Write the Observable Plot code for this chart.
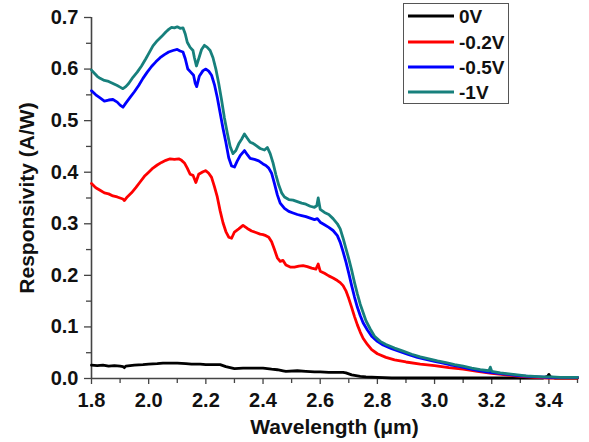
<!DOCTYPE html>
<html>
<head>
<meta charset="utf-8">
<script src="https://cdn.jsdelivr.net/npm/d3@7"></script>
<script src="https://cdn.jsdelivr.net/npm/@observablehq/plot@0.6"></script>
<style>
  body { margin: 0; background: white; }
  #wrap { position: relative; width: 589px; height: 442px; }
  #legend { position: absolute; left: 403px; top: 3px; }
</style>
</head>
<body>
<div id="wrap"></div>
<script>
// ---- data ----
const seriesNames = ["0V", "-0.2V", "-0.5V", "-1V"];
const seriesColors = ["#000000", "#ff0000", "#0000ff", "#17807c"];

const xTicksMajor = [1.8, 2.0, 2.2, 2.4, 2.6, 2.8, 3.0, 3.2, 3.4];
const xTicksMinor = [1.9, 2.1, 2.3, 2.5, 2.7, 2.9, 3.1, 3.3, 3.5];
const yTicksMajor = [0, 0.1, 0.2, 0.3, 0.4, 0.5, 0.6, 0.7];
const yTicksMinor = [0.05, 0.15, 0.25, 0.35, 0.45, 0.55, 0.65];

const wl0V = [1.80,1.82,1.84,1.86,1.88,1.90,1.91,1.915,1.92,1.95,1.98,2.00,2.03,2.05,2.08,2.10,2.13,2.15,2.18,2.20,2.23,2.25,2.26,2.27,2.285,2.30,2.33,2.35,2.38,2.40,2.43,2.45,2.47,2.48,2.52,2.55,2.58,2.60,2.63,2.65,2.68,2.69,2.70,2.71,2.72,2.74,2.76,2.80,2.85,2.90,3.00,3.10,3.20,3.30,3.38,3.395,3.40,3.405,3.42,3.50];
const resp0V = [0.026,0.025,0.026,0.024,0.025,0.024,0.023,0.021,0.024,0.026,0.027,0.028,0.029,0.030,0.030,0.030,0.029,0.028,0.028,0.027,0.027,0.027,0.025,0.023,0.021,0.019,0.020,0.020,0.020,0.020,0.018,0.017,0.015,0.014,0.015,0.014,0.013,0.013,0.012,0.012,0.012,0.011,0.009,0.007,0.006,0.004,0.003,0.002,0.001,0.001,0.001,0.001,0.001,0.001,0.001,0.004,0.008,0.003,0.001,0.001];

const wlM02 = [1.80,1.815,1.83,1.845,1.86,1.875,1.89,1.90,1.91,1.915,1.925,1.94,1.955,1.97,1.985,2.00,2.015,2.03,2.045,2.06,2.075,2.09,2.105,2.115,2.125,2.135,2.145,2.155,2.165,2.175,2.19,2.20,2.21,2.22,2.23,2.24,2.25,2.26,2.27,2.28,2.29,2.30,2.315,2.33,2.345,2.36,2.375,2.39,2.40,2.41,2.42,2.43,2.44,2.45,2.46,2.47,2.48,2.495,2.51,2.525,2.54,2.555,2.57,2.585,2.593,2.60,2.615,2.63,2.645,2.66,2.67,2.68,2.69,2.70,2.71,2.72,2.73,2.74,2.75,2.765,2.78,2.80,2.83,2.86,2.90,2.95,3.00,3.05,3.10,3.15,3.20,3.25,3.30,3.35,3.40,3.50];
const respM02 = [0.378,0.370,0.365,0.360,0.358,0.354,0.352,0.350,0.348,0.345,0.352,0.360,0.370,0.381,0.392,0.400,0.408,0.414,0.419,0.423,0.426,0.425,0.426,0.423,0.418,0.408,0.396,0.394,0.380,0.396,0.401,0.403,0.398,0.390,0.372,0.352,0.325,0.302,0.285,0.274,0.272,0.284,0.290,0.297,0.291,0.286,0.283,0.280,0.279,0.277,0.274,0.265,0.250,0.234,0.227,0.229,0.220,0.216,0.216,0.218,0.219,0.217,0.214,0.212,0.222,0.208,0.204,0.199,0.195,0.190,0.186,0.180,0.170,0.155,0.138,0.120,0.104,0.090,0.078,0.066,0.056,0.048,0.041,0.036,0.032,0.028,0.025,0.021,0.018,0.014,0.010,0.007,0.004,0.002,0.001,0.001];

const wlM05 = [1.80,1.815,1.83,1.845,1.86,1.875,1.89,1.90,1.91,1.92,1.935,1.95,1.965,1.98,1.995,2.01,2.025,2.04,2.055,2.07,2.085,2.10,2.11,2.12,2.128,2.137,2.147,2.157,2.163,2.168,2.177,2.19,2.20,2.21,2.22,2.23,2.24,2.25,2.26,2.27,2.28,2.29,2.30,2.31,2.32,2.335,2.345,2.355,2.37,2.385,2.40,2.41,2.42,2.43,2.44,2.45,2.46,2.475,2.49,2.505,2.52,2.535,2.55,2.565,2.58,2.59,2.60,2.615,2.63,2.645,2.66,2.67,2.68,2.69,2.70,2.71,2.72,2.73,2.74,2.75,2.765,2.78,2.80,2.82,2.85,2.88,2.91,2.94,2.97,3.00,3.03,3.06,3.09,3.12,3.15,3.18,3.21,3.24,3.27,3.30,3.33,3.36,3.40,3.45,3.50];
const respM05 = [0.558,0.550,0.544,0.538,0.540,0.541,0.536,0.530,0.526,0.534,0.545,0.556,0.568,0.582,0.594,0.605,0.614,0.622,0.628,0.633,0.636,0.638,0.635,0.633,0.620,0.600,0.594,0.588,0.572,0.566,0.586,0.597,0.600,0.596,0.588,0.570,0.545,0.515,0.485,0.458,0.428,0.412,0.410,0.422,0.432,0.442,0.434,0.427,0.425,0.422,0.416,0.413,0.408,0.398,0.378,0.356,0.340,0.330,0.324,0.321,0.318,0.316,0.314,0.311,0.308,0.310,0.303,0.298,0.293,0.287,0.277,0.264,0.246,0.226,0.204,0.180,0.158,0.138,0.122,0.108,0.094,0.082,0.072,0.065,0.058,0.052,0.046,0.041,0.037,0.033,0.030,0.026,0.023,0.019,0.016,0.013,0.011,0.009,0.007,0.005,0.004,0.003,0.002,0.002,0.002];

const wlM1 = [1.80,1.81,1.82,1.83,1.845,1.86,1.875,1.89,1.90,1.91,1.92,1.93,1.945,1.96,1.975,1.99,2.00,2.015,2.03,2.045,2.06,2.07,2.08,2.09,2.10,2.11,2.12,2.128,2.135,2.145,2.155,2.16,2.167,2.175,2.185,2.195,2.205,2.215,2.225,2.235,2.245,2.255,2.265,2.275,2.285,2.295,2.305,2.315,2.325,2.335,2.345,2.355,2.365,2.375,2.39,2.405,2.415,2.425,2.435,2.445,2.455,2.465,2.475,2.49,2.505,2.52,2.535,2.55,2.565,2.58,2.588,2.593,2.60,2.615,2.63,2.645,2.66,2.67,2.68,2.69,2.70,2.71,2.72,2.73,2.74,2.75,2.76,2.775,2.79,2.81,2.83,2.86,2.89,2.92,2.95,2.98,3.01,3.04,3.07,3.10,3.13,3.16,3.19,3.195,3.20,3.23,3.26,3.29,3.32,3.35,3.38,3.41,3.44,3.47,3.50];
const respM1 = [0.598,0.592,0.586,0.582,0.578,0.576,0.572,0.568,0.565,0.562,0.566,0.572,0.584,0.594,0.606,0.620,0.630,0.645,0.655,0.663,0.672,0.677,0.681,0.680,0.682,0.679,0.680,0.668,0.652,0.642,0.636,0.622,0.606,0.620,0.638,0.646,0.642,0.636,0.622,0.600,0.572,0.540,0.505,0.476,0.450,0.436,0.442,0.455,0.464,0.474,0.466,0.458,0.456,0.452,0.446,0.443,0.448,0.436,0.418,0.395,0.375,0.360,0.352,0.347,0.346,0.343,0.340,0.338,0.334,0.332,0.335,0.350,0.328,0.322,0.318,0.310,0.300,0.290,0.272,0.252,0.232,0.210,0.186,0.164,0.144,0.128,0.112,0.096,0.082,0.072,0.066,0.059,0.053,0.047,0.042,0.038,0.034,0.031,0.027,0.024,0.020,0.017,0.015,0.022,0.014,0.011,0.009,0.007,0.005,0.004,0.003,0.003,0.002,0.002,0.002];

const seriesX = [wl0V, wlM02, wlM05, wlM1];
const seriesY = [resp0V, respM02, respM05, respM1];

// ---- chart ----
const FONT = "'Liberation Sans', Arial, Helvetica, sans-serif";
const AXIS = "#444";
const fmt = d3.format(".1f");

const lineMarks = seriesNames.map((name, k) => {
  const rows = seriesX[k].map((x, i) => ({x, y: seriesY[k][i]}));
  return Plot.line(rows, {x: "x", y: "y", stroke: seriesColors[k], strokeWidth: 2.8, curve: "linear"});
});

const chart = Plot.plot({
  width: 589,
  height: 442,
  marginLeft: 91,
  marginRight: 12,
  marginTop: 17,
  marginBottom: 64,
  x: {domain: [1.8, 3.5]},
  y: {domain: [0, 0.7]},
  style: {fontFamily: FONT, fontWeight: "bold", fontSize: "20px", color: "#111", background: "white", overflow: "visible"},
  marks: [
    Plot.axisY({ticks: yTicksMajor, tickSize: 7, tickPadding: 6, tickFormat: fmt, stroke: AXIS, strokeWidth: 1.3, fill: "#111", fontSize: 20, label: null}),
    Plot.axisY({ticks: yTicksMinor, tickSize: 5, tickFormat: () => "", stroke: AXIS, strokeWidth: 1.3, label: null}),
    Plot.axisX({ticks: xTicksMajor, tickSize: 6, tickPadding: 8, tickFormat: fmt, stroke: AXIS, strokeWidth: 1.3, fill: "#111", fontSize: 20, label: null}),
    Plot.axisX({ticks: xTicksMinor, tickSize: 5, tickFormat: () => "", stroke: AXIS, strokeWidth: 1.3, label: null}),
    Plot.ruleX([1.8], {stroke: AXIS, strokeWidth: 1.6}),
    Plot.ruleY([0], {stroke: AXIS, strokeWidth: 1.6}),
    ...lineMarks,
    Plot.text(["Wavelength (μm)"], {frameAnchor: "bottom", textAnchor: "middle", lineAnchor: "middle", dy: 48.5, fontSize: 21, fontWeight: "bold", fill: "#111"}),
    Plot.text(["Responsivity (A/W)"], {frameAnchor: "left", textAnchor: "middle", lineAnchor: "middle", rotate: -90, dx: -64.5, fontSize: 21, fontWeight: "bold", fill: "#111"})
  ]
});

const wrap = document.getElementById("wrap");
wrap.appendChild(chart);

// ---- legend (inside the plot, top right) ----
const legW = 106, legH = 101, rowY = [13, 39, 64, 89];
const leg = d3.create("svg").attr("id", "legend").attr("width", legW).attr("height", legH)
  .style("font-family", FONT).style("font-weight", "bold").style("font-size", "19px");
leg.append("rect").attr("x", 0.5).attr("y", 0.5).attr("width", legW - 1).attr("height", legH - 1)
  .attr("fill", "white").attr("stroke", "#555").attr("stroke-width", 1);
seriesNames.forEach((name, k) => {
  leg.append("line").attr("x1", 5).attr("x2", 51).attr("y1", rowY[k]).attr("y2", rowY[k])
    .attr("stroke", seriesColors[k]).attr("stroke-width", 2.8);
  leg.append("text").attr("x", 56).attr("y", rowY[k]).attr("dy", "0.36em").attr("fill", "#111").text(name);
});
wrap.appendChild(leg.node());
</script>
</body>
</html>
